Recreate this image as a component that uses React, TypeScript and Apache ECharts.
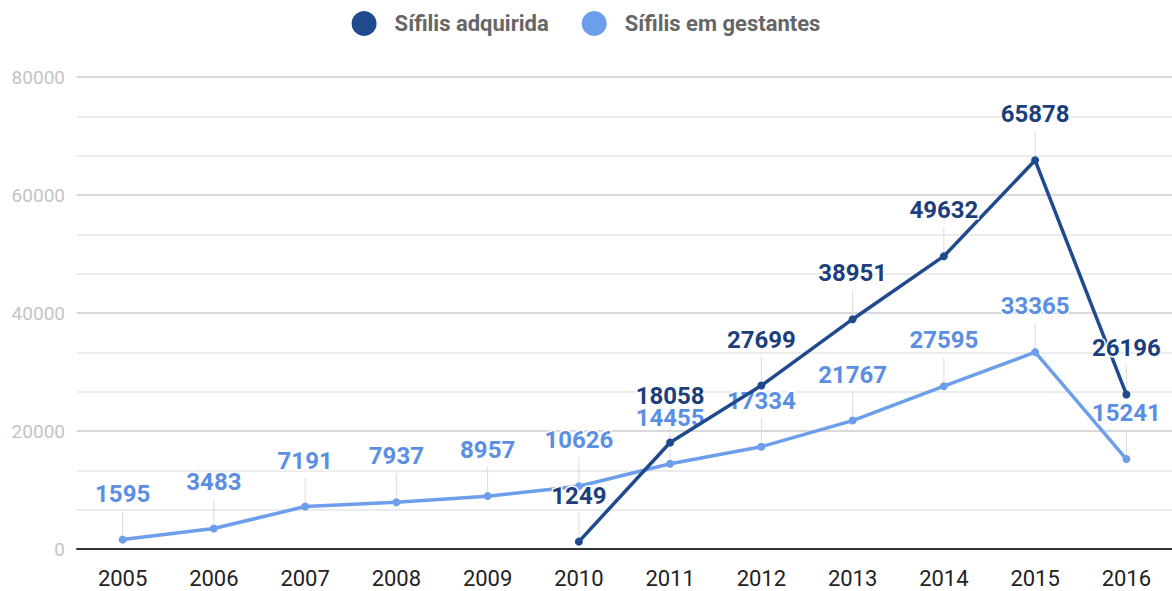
import React, { useEffect, useRef } from "react";
import * as echarts from "echarts";

const years = ["2005", "2006", "2007", "2008", "2009", "2010", "2011", "2012", "2013", "2014", "2015", "2016"];
const adquirida: (number | null)[] = [null, null, null, null, null, 1249, 18058, 27699, 38951, 49632, 65878, 26196];
const gestantes: number[] = [1595, 3483, 7191, 7937, 8957, 10626, 14455, 17334, 21767, 27595, 33365, 15241];
const yTicks = [0, 20000, 40000, 60000, 80000];

const DARK = "#1f4a8d";
const LIGHT = "#6d9eeb";
const DARK_LABEL = "#1c3f7c";
const LIGHT_LABEL = "#5b8fe3";

function leaderData(vals: (number | null)[]) {
  const out: [number, number][] = [];
  vals.forEach((v, i) => {
    if (v !== null) out.push([i, v]);
  });
  return out;
}

export default function App() {
  const ref = useRef<HTMLDivElement>(null);
  useEffect(() => {
    if (!ref.current) return;
    const chart = echarts.init(ref.current, null, { renderer: "svg" });
    const leader = (name: string, vals: (number | null)[]) => ({
      type: "custom",
      name: name + "_leader",
      silent: true,
      z: 1,
      data: leaderData(vals),
      renderItem: (_p: any, api: any) => {
        const pt = api.coord([api.value(0), api.value(1)]);
        return {
          type: "line",
          shape: { x1: pt[0], y1: pt[1] - 4, x2: pt[0], y2: pt[1] - 29 },
          style: { stroke: "#dcdcdc", lineWidth: 1 },
        };
      },
    });
    const label = (color: string) => ({
      show: true,
      position: "top",
      distance: 30,
      color,
      fontFamily: "Roboto",
      fontWeight: "bold",
      fontSize: 24,
      textBorderColor: "#fff",
      textBorderWidth: 3,
    });
    chart.setOption({
      animation: false,
      backgroundColor: "#fff",
      textStyle: { fontFamily: "Roboto" },
      legend: {
        top: 6,
        left: "center",
        icon: "circle",
        itemWidth: 25,
        itemHeight: 25,
        itemGap: 33,
        data: ["Sífilis adquirida", "Sífilis em gestantes"],
        textStyle: { fontSize: 22, fontWeight: "bold", color: "#666", fontFamily: "Roboto", padding: [0, 0, 0, 13] },
      },
      grid: { left: 77, right: 0, top: 77, bottom: 42 },
      xAxis: {
        type: "category",
        data: years,
        boundaryGap: true,
        axisLine: { show: true, lineStyle: { color: "#333", width: 2 } },
        axisTick: { show: false },
        axisLabel: { color: "#222", fontSize: 22, margin: 18, fontFamily: "Roboto" },
        splitLine: { show: false },
      },
      yAxis: {
        type: "value",
        min: yTicks[0],
        max: yTicks[yTicks.length - 1],
        interval: 20000,
        axisLine: { show: false },
        axisTick: { show: false },
        axisLabel: { color: "#c4c4c4", fontSize: 19, margin: 12, fontFamily: "Roboto", formatter: (v: number) => String(v) },
        splitLine: { show: true, lineStyle: { color: "#cccccc", width: 1.5 } },
        minorTick: { show: false, splitNumber: 3 },
        minorSplitLine: { show: true, lineStyle: { color: "#e6e6e6", width: 1.5 } },
      },
      series: [
        leader("Sífilis em gestantes", gestantes),
        leader("Sífilis adquirida", adquirida),
        {
          name: "Sífilis em gestantes",
          type: "line",
          data: gestantes,
          color: LIGHT,
          z: 3,
          symbol: "circle",
          symbolSize: 8,
          lineStyle: { width: 3.5, color: LIGHT },
          itemStyle: { color: LIGHT },
          label: label(LIGHT_LABEL),
        },
        {
          name: "Sífilis adquirida",
          type: "line",
          data: adquirida,
          color: DARK,
          z: 4,
          symbol: "circle",
          symbolSize: 8,
          lineStyle: { width: 3.5, color: DARK },
          itemStyle: { color: DARK },
          label: label(DARK_LABEL),
        },
      ],
    });
    return () => chart.dispose();
  }, []);
  return <div ref={ref} style={{ position: "fixed", left: 0, top: 0, width: 1172, height: 591 }} />;
}
